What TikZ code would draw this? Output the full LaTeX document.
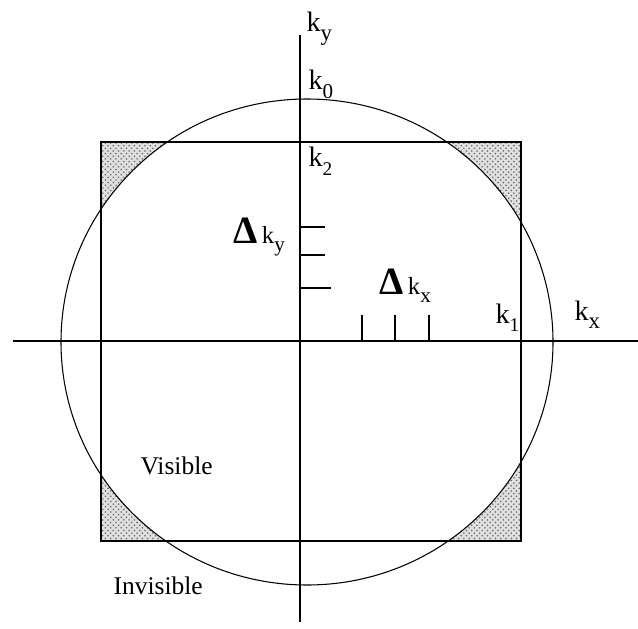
\documentclass[tikz,border=0pt]{standalone}
\usepackage{fontspec}
\setmainfont{Liberation Serif}
\usetikzlibrary{patterns}
\newcommand{\ksub}[2][13]{k\raisebox{-5pt}{\fontsize{#1}{#1}\selectfont #2}}
\newcommand{\dlt}{{\fontsize{22}{22}\selectfont\bfseries Δ}}

\begin{document}
\begin{tikzpicture}[x=0.02cm, y=-0.02cm, line width=0.7pt,
    klabel/.style={anchor=base west, inner sep=0pt, font=\fontsize{16}{16}\selectfont},
    dlabel/.style={anchor=base west, inner sep=0pt, font=\fontsize{14}{14}\selectfont},
    region/.style={anchor=base west, inner sep=0pt, font=\fontsize{14.5}{14.5}\selectfont},
    shade/.style={fill=black!12, postaction={pattern=crosshatch dots, pattern color=black!60}}]
\useasboundingbox (0,0) rectangle (638,628);
\coordinate (O) at (307,342);
\coordinate (sqa) at (101,142);
\coordinate (sqb) at (521,541);
\coordinate (xl) at (13,341);
\coordinate (xr) at (638,341);
\coordinate (yt) at (300,35);
\coordinate (yb) at (300,622);

\begin{scope}
    \clip (sqa) rectangle (sqb);
    \path[shade, even odd rule] (sqa) rectangle (sqb) (O) ellipse (246 and 243);
\end{scope}
\draw (sqa) rectangle (sqb);
\draw[line width=0.6pt] (O) ellipse (246 and 243);
\draw (xl) -- (xr);
\draw (yt) -- (yb);

\foreach \y/\len in {227/25, 255/25, 288/31} {
    \draw (300,\y) -- ++(\len,0);
}
\foreach \x in {362, 395, 429} {
    \draw (\x,341) -- (\x,315);
}

\node[klabel] (ky) at (306,32) {\ksub{y}};
\node[klabel] (k0) at (308,90) {\ksub[12]{0}};
\node[klabel] (k2) at (308,167) {\ksub[11]{2}};
\node[klabel] (k1) at (495,323) {\ksub[11]{1}};
\node[klabel] (kx) at (574,320) {\ksub{x}};
\node[dlabel] (dky) at (233,243) {\dlt\,\ksub[12]{y}};
\node[dlabel] (dkx) at (379,294) {\dlt\,\ksub[12]{x}};
\node[region] (vis) at (140,474) {Visible};
\node[region] (invis) at (113,594) {Invisible};
\end{tikzpicture}
\end{document}
